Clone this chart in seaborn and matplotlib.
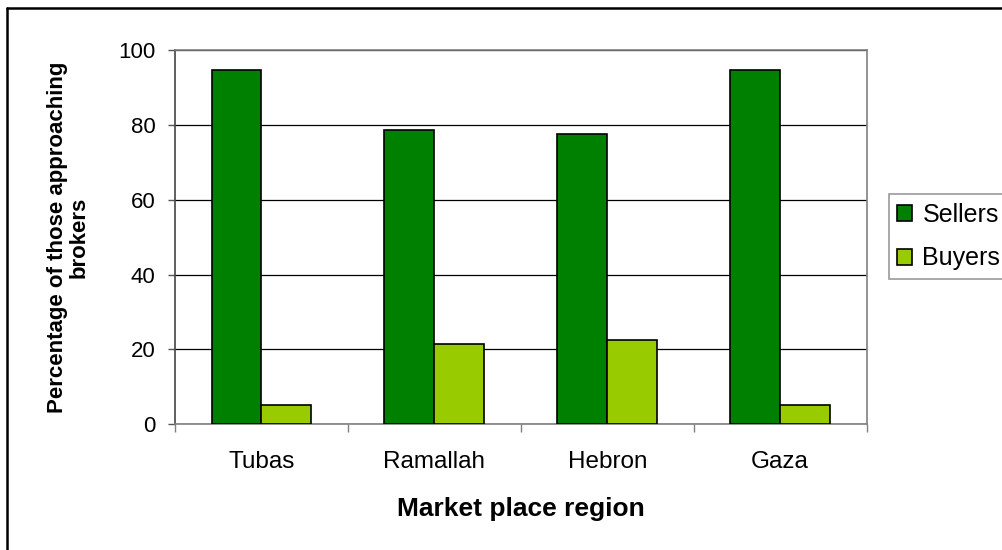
import matplotlib
matplotlib.use("Agg")
import matplotlib.pyplot as plt
import seaborn as sns
import pandas as pd
import numpy as np
from matplotlib.lines import Line2D

regions = ["Tubas", "Ramallah", "Hebron", "Gaza"]
sellers = [94.6, 78.6, 77.5, 94.6]
buyers = [5.2, 21.4, 22.4, 5.2]
series = ["Sellers", "Buyers"]
colors = ["#008000", "#99CC00"]

df = pd.DataFrame({"region": regions, "Sellers": sellers, "Buyers": buyers})
df_long = df.melt(id_vars="region", value_vars=series, var_name="group", value_name="pct")

sns.set_style("white")
plt.rcParams['font.family'] = ['Liberation Sans', 'DejaVu Sans']
plt.rcParams['text.color'] = 'black'
plt.rcParams['axes.labelcolor'] = 'black'
plt.rcParams['xtick.color'] = 'black'
plt.rcParams['ytick.color'] = 'black'

fig = plt.figure(figsize=(10.03, 5.5), dpi=100)
ax = fig.add_axes([0.1745, 0.2285, 0.6895, 0.6805])

sns.barplot(data=df_long, x="region", y="pct", hue="group", order=regions,
            hue_order=series, palette=colors, width=0.578, edgecolor="black",
            linewidth=1.2, saturation=1, ax=ax, legend=False, zorder=3)

ax.set_ylim(0, 100)
ax.set_xlim(-0.5, len(regions) - 0.5)
ax.set_yticks([0, 20, 40, 60, 80, 100])
ax.yaxis.grid(True, color="black", linewidth=0.9)
ax.set_axisbelow(True)
ax.tick_params(axis="y", labelsize=16, length=5, width=1, color="#555555",
               labelcolor="black", direction="out", left=True, pad=9)
ax.tick_params(axis="x", which="major", labelsize=17.5, length=0, pad=19, labelcolor="black")
ax.set_xticks(np.arange(-0.5, len(regions)), minor=True)
ax.tick_params(axis="x", which="minor", length=6, width=1, color="#808080", direction="out", bottom=True)
for s in ["top", "right", "bottom"]:
    ax.spines[s].set_color("#808080")
    ax.spines[s].set_linewidth(1.2)
ax.spines["left"].set_color("#444444")
ax.spines["left"].set_linewidth(1.2)

ax.set_xlabel("Market place region", fontsize=19, fontweight="bold")
ax.set_ylabel("Percentage of those approaching\nbrokers", fontsize=16, fontweight="bold",
              linespacing=1.05)
ax.xaxis.set_label_coords(0.5, -0.195)
ax.yaxis.set_label_coords(-0.123, 0.5)

handles = [plt.Rectangle((0, 0), 1, 1, facecolor=c, edgecolor="black", linewidth=1.2) for c in colors]
leg = fig.legend(handles, series, loc="upper left", bbox_to_anchor=(0.886, 0.647),
                 fontsize=18, frameon=True, fancybox=False, handlelength=0.6, handleheight=0.6,
                 handletextpad=0.4, borderpad=0.35, labelspacing=0.78, borderaxespad=0)
leg.get_frame().set_edgecolor("#808080")
leg.get_frame().set_linewidth(1.2)

# outer chart border (left and top visible)
fig.add_artist(Line2D([0.007, 0.007], [0, 0.985], transform=fig.transFigure, color="black", linewidth=1.8))
fig.add_artist(Line2D([0.007, 1.0], [0.985, 0.985], transform=fig.transFigure, color="black", linewidth=1.8))

fig.savefig("out.png", dpi=100)
